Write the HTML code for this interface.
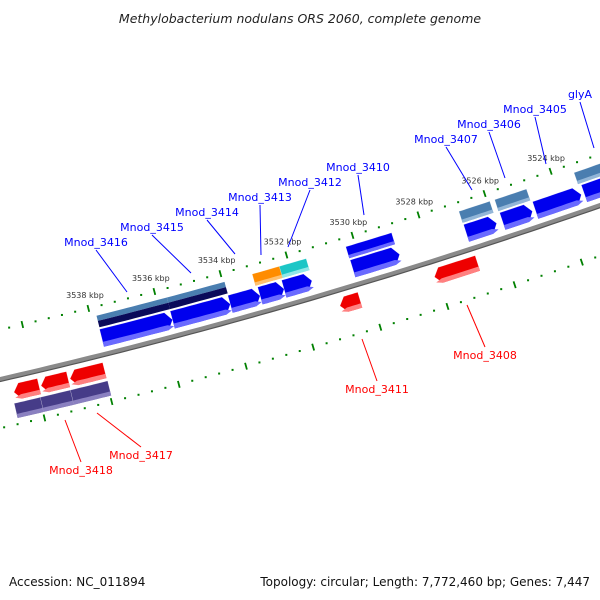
<!DOCTYPE html>
<html><head><meta charset="utf-8"><style>
html,body{margin:0;padding:0;background:#fff;}
svg{display:block;font-family:"DejaVu Sans","Liberation Sans",sans-serif;}
</style></head><body>
<svg id="c" width="600" height="600" viewBox="0 0 600 600">
<text x="300" y="23" text-anchor="middle" font-size="12.5" font-style="italic" fill="#222">Methylobacterium nodulans ORS 2060, complete genome</text>
<text x="9" y="586" font-size="12" fill="#111">Accession: NC_011894</text>
<text x="590" y="586" text-anchor="end" font-size="12" fill="#111">Topology: circular; Length: 7,772,460 bp; Genes: 7,447</text>
<g id="layer"></g>
</svg>
<script>
// ---- data (kbp) ----
const fwdInnerStart = [3537.83,3535.70,3533.96,3533.06,3532.34,3530.27,3526.85,3525.76,3524.77,3523.30];
const fwdInnerEnd   = [3535.70,3533.96,3533.06,3532.34,3531.50,3528.86,3525.94,3524.86,3523.39,3522.10];
const fwdOuterStart = [3537.82,3535.69,3533.11,3532.29,3530.28,3526.86,3525.78,3523.38];
const fwdOuterEnd   = [3535.69,3533.95,3532.29,3531.48,3528.90,3525.93,3524.82,3522.10];
const fwdOuterKind  = ['rna','rna','orange','cyan','blue','steel','steel','steel'];
const revInnerStart = [3540.69,3539.88,3539.01,3530.93,3528.10];
const revInnerEnd   = [3539.94,3539.07,3537.98,3530.33,3526.81];
const revOuterStart = [3540.76,3539.98,3539.08];
const revOuterEnd   = [3539.98,3539.08,3537.97];
const tickLabels = [3538,3536,3534,3532,3530,3528,3526,3524];
const fwdLabels = ['Mnod_3416','Mnod_3415','Mnod_3414','Mnod_3413','Mnod_3412','Mnod_3410','Mnod_3407','Mnod_3406','Mnod_3405','glyA'];
const fwdLabelPos = [[96,246],[152,231],[207,216],[260,201],[310,186],[358,171],[446,143],[489,128],[535,113],[580,98]];
const fwdLabelTarget = [[127,292],[191,273],[235,254],[261,255],[288,247],[364,215],[472,190],[505,178],[546,164],[594,148]];
const revLabels = ['Mnod_3418','Mnod_3417','Mnod_3411','Mnod_3408'];
const revLabelPos = [[81,474],[141,459],[377,393],[485,359]];
const revLabelTarget = [[65,420],[97,413],[362,339],[467,305]];

const NS='http://www.w3.org/2000/svg';
const layer=document.getElementById('layer');
function y0(x){return 379-0.23*x-0.0001*x*x;}
function P(x,d){const m=-0.23-0.0002*x;const L=Math.sqrt(1+m*m);return [x+d*(-m)/L, y0(x)+d/L];}
function px(kbp){return 100+(3538-kbp)*33.3;}
function mk(tag,attrs){const e=document.createElementNS(NS,tag);for(const k in attrs)e.setAttribute(k,attrs[k]);layer.appendChild(e);return e;}
function ptsStr(a){return a.map(p=>p[0].toFixed(1)+','+p[1].toFixed(1)).join(' ');}
function shape(x1,x2,d1,d2,arrow){
  const h=6, top=[],bot=[];
  let a=x1,b=x2;
  if(arrow===1)b=x2-h; if(arrow===-1)a=x1+h;
  const n=8;
  for(let i=0;i<=n;i++){const x=a+(b-a)*i/n;top.push(P(x,d1));bot.push(P(x,d2));}
  let pts=[];
  if(arrow===-1)pts.push(P(x1,(d1+d2)/2));
  pts=pts.concat(top);
  if(arrow===1)pts.push(P(x2,(d1+d2)/2));
  pts=pts.concat(bot.reverse());
  return ptsStr(pts);
}
const colors={blue:['#0000ee','#6a6aff'],red:['#ee0000','#ff8080'],steel:['#4a7eb0','#93b6d8'],orange:['#ff8c00','#ffc070'],cyan:['#1cc6c6','#90e8e8'],purple:['#463c88','#8a80c0']};
function gene(s,e,d1,d2,arrow,kind,name){
  const x1=px(s),x2=px(e);
  if(kind==='rna'){
    const mid=d1+(d2-d1)*0.45;
    const g1=mk('polygon',{points:shape(x1,x2,d1,mid,0),fill:'#4a7eb0'});
    
    
    const g2=mk('polygon',{points:shape(x1,x2,mid,d2,0),fill:'#0a0a5a'});
    
    
    return;
  }
  const c=colors[kind];
  const g=mk('polygon',{points:shape(x1,x2,d1,d2,arrow),fill:c[0],stroke:'#ffffff','stroke-opacity':'0.35','stroke-width':'0.5'});
  
  
  const sh=mk('polygon',{points:shape(x1,x2,d2-(d2-d1)*0.28,d2,arrow),fill:c[1]});
  
  
}
(function(){
  const top=[],bot=[];
  for(let x=-10;x<=610;x+=10){top.push(P(x,-2));bot.push(P(x,2.5));}
  const b=mk('polygon',{points:ptsStr(top.concat(bot.reverse())),fill:'#8a8a8a'});
  
  
  const l=[];for(let x=-10;x<=610;x+=10)l.push(P(x,2.5));
  const s=mk('polyline',{points:ptsStr(l),fill:'none',stroke:'#555','stroke-width':'1.2'});
  
  
})();
for(let k=0;k<60;k++){
  const kbp=3542-k*0.4;
  const x=px(kbp);
  const major=Math.abs((kbp/2)-Math.round(kbp/2))<0.01;
  [-48,48].forEach(d=>{
    if(major){
      const a=P(x,d-3.5),b=P(x,d+3.5);
      const t=mk('line',{x1:a[0],y1:a[1],x2:b[0],y2:b[1],stroke:'#008000','stroke-width':'1.8'});
      
      
    }else{
      const a=P(x,d);
      const t=mk('rect',{x:a[0]-1,y:a[1]-1,width:2,height:2,fill:'#008000'});
      
      
    }
  });
}
tickLabels.forEach(k=>{
  const a=P(px(k),-62);
  const t=mk('text',{x:a[0],y:a[1]+3,'text-anchor':'middle','font-size':'8',fill:'#333'});
  t.textContent=k+' kbp';
  
  
});
fwdOuterStart.forEach((s,i)=>gene(s,fwdOuterEnd[i],-39,-27,0,fwdOuterKind[i],'fwd-outer-gene-'+i));
fwdInnerStart.forEach((s,i)=>gene(s,fwdInnerEnd[i],-25,-7,1,'blue','fwd-gene-'+i));
revInnerStart.forEach((s,i)=>gene(s,revInnerEnd[i],8,24,-1,'red','rev-gene-'+i));
revOuterStart.forEach((s,i)=>gene(s,revOuterEnd[i],27,42,0,'purple','rev-outer-gene-'+i));
function lab(txt,pos,tg,col,name){
  const l=mk('line',{x1:pos[0],y1:col==='#0000ff'?pos[1]+4:pos[1]-12,x2:tg[0],y2:tg[1],stroke:col,'stroke-width':'1'});
  
  
  const t=mk('text',{x:pos[0],y:pos[1],'text-anchor':'middle','font-size':'11',fill:col});
  t.textContent=txt;
  
  
}
fwdLabels.forEach((t,i)=>lab(t,fwdLabelPos[i],fwdLabelTarget[i],'#0000ff',t.toLowerCase()));
revLabels.forEach((t,i)=>lab(t,revLabelPos[i],revLabelTarget[i],'#ff0000',t.toLowerCase()));
</script>
</body></html>
